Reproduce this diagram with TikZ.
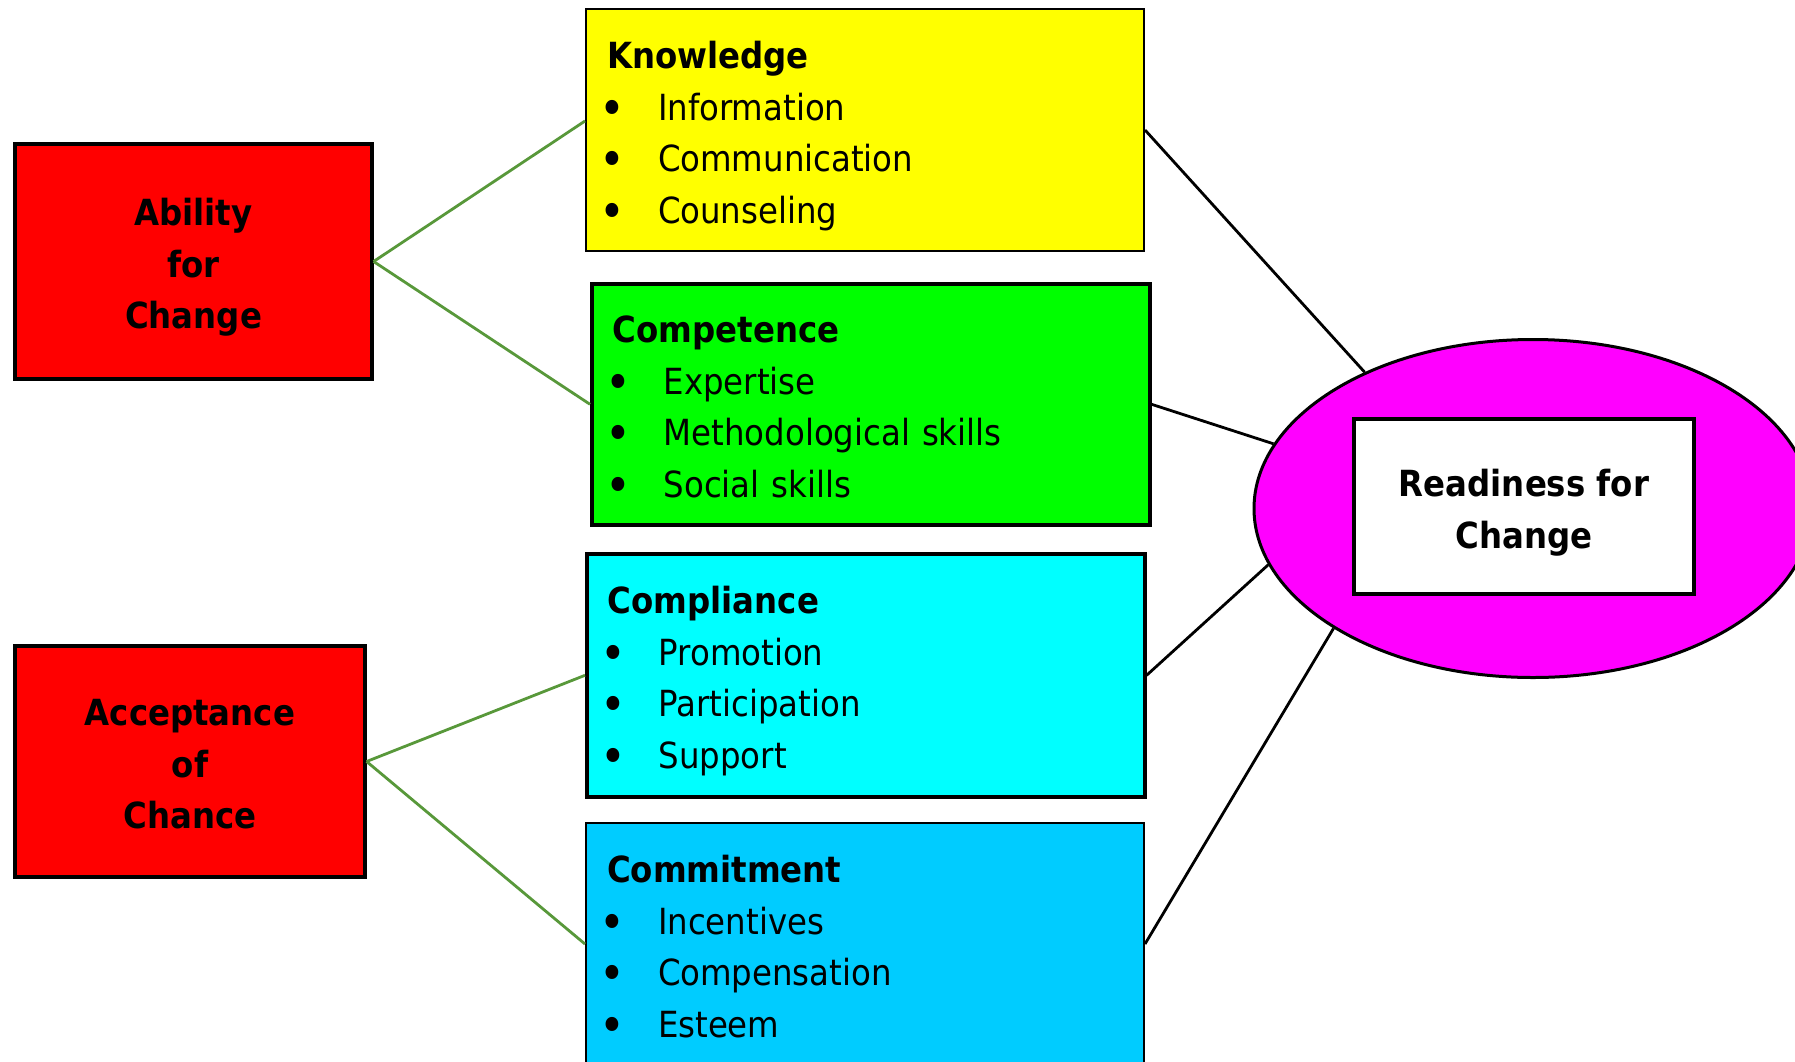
\documentclass[tikz,border=0pt]{standalone}
\usepackage{fontspec}
\usepackage{graphicx}
\setmainfont{DejaVu Sans Condensed}
\usetikzlibrary{shapes.geometric, positioning}

\definecolor{linkgreen}{RGB}{88,152,58}
\definecolor{boxyellow}{RGB}{255,255,0}
\definecolor{boxgreen}{RGB}{0,255,0}
\definecolor{boxcyan}{RGB}{0,255,255}
\definecolor{boxsky}{RGB}{0,204,255}
\definecolor{boxred}{RGB}{255,0,0}
\definecolor{boxmagenta}{RGB}{255,0,255}
\newcommand{\tstrut}{\rule{0pt}{23.5pt}}
\newcommand{\hd}[1]{\tstrut\textbf{#1}}
\newcommand{\itm}[1]{\makebox[25.5pt][l]{\hspace{-3.9pt}\raisebox{-2.5pt}{\scalebox{1.35}{\textbullet}}}#1\strut}

\begin{document}
\begin{tikzpicture}[
  x=0.5pt, y=-0.5pt,
  every node/.style={font=\fontsize{18}{25.75}\selectfont},
  redbox/.style={draw, fill=boxred, line width=1.6pt, align=center,
    font=\bfseries\fontsize{18}{25.75}\selectfont},
  listbox/.style={draw, anchor=north west, text width=258pt,
    minimum height=121pt, inner xsep=10.5pt, align=left},
  greenlink/.style={linkgreen, line width=1.4pt},
  blacklink/.style={black, line width=1.4pt}]

  \useasboundingbox (0,0) rectangle (1795,1061);

  \node[redbox, minimum width=178.5pt, minimum height=117.5pt] (ability) at (193.5,261.5) {\tstrut Ability\\for\\Change\strut};
  \node[redbox, minimum width=175pt, minimum height=115.5pt] (accept) at (190,761.5) {\tstrut Acceptance\\of\\Chance\strut};

  \node[listbox, fill=boxyellow, line width=1pt] (know) at (585,8)
    {\hd{Knowledge}\\\itm{Information}\\\itm{Communication}\\\itm{Counseling}};
  \node[listbox, fill=boxgreen, line width=1.8pt, minimum height=120.5pt] (comp) at (590,282)
    {\hd{Competence}\\\itm{Expertise}\\\itm{Methodological skills}\\\itm{Social skills}};
  \node[listbox, fill=boxcyan, line width=1.8pt, minimum height=121.5pt] (compl) at (585,552)
    {\hd{Compliance}\\\itm{Promotion}\\\itm{Participation}\\\itm{Support}};
  \node[listbox, fill=boxsky, line width=1pt] (commit) at (585,822)
    {\hd{Commitment}\\\itm{Incentives}\\\itm{Compensation}\\\itm{Esteem}};

  \node[ellipse, draw, fill=boxmagenta, line width=1.5pt, inner sep=0pt,
    minimum width=279pt, minimum height=169pt] (rfc) at (1533,508.5) {};
  \node[draw, fill=white, line width=1.6pt, align=center, minimum width=170pt,
    minimum height=87.5pt, font=\bfseries\fontsize{18}{25.75}\selectfont] (ready) at (1524,506.5)
    {\tstrut Readiness for\\Change\strut};

  \draw[greenlink] (ability.east) -- ([yshift=4.5pt]know.west);
  \draw[greenlink] (ability.east) -- (comp.west);
  \draw[greenlink] (accept.east) -- (compl.west);
  \draw[greenlink] (accept.east) -- (commit.west);

  \draw[blacklink] (know.east) -- (rfc.141);
  \draw[blacklink] (comp.east) -- (rfc.166);
  \draw[blacklink] (compl.east) -- (rfc.192);
  \draw[blacklink] (commit.east) -- (rfc.211);
\end{tikzpicture}
\end{document}
